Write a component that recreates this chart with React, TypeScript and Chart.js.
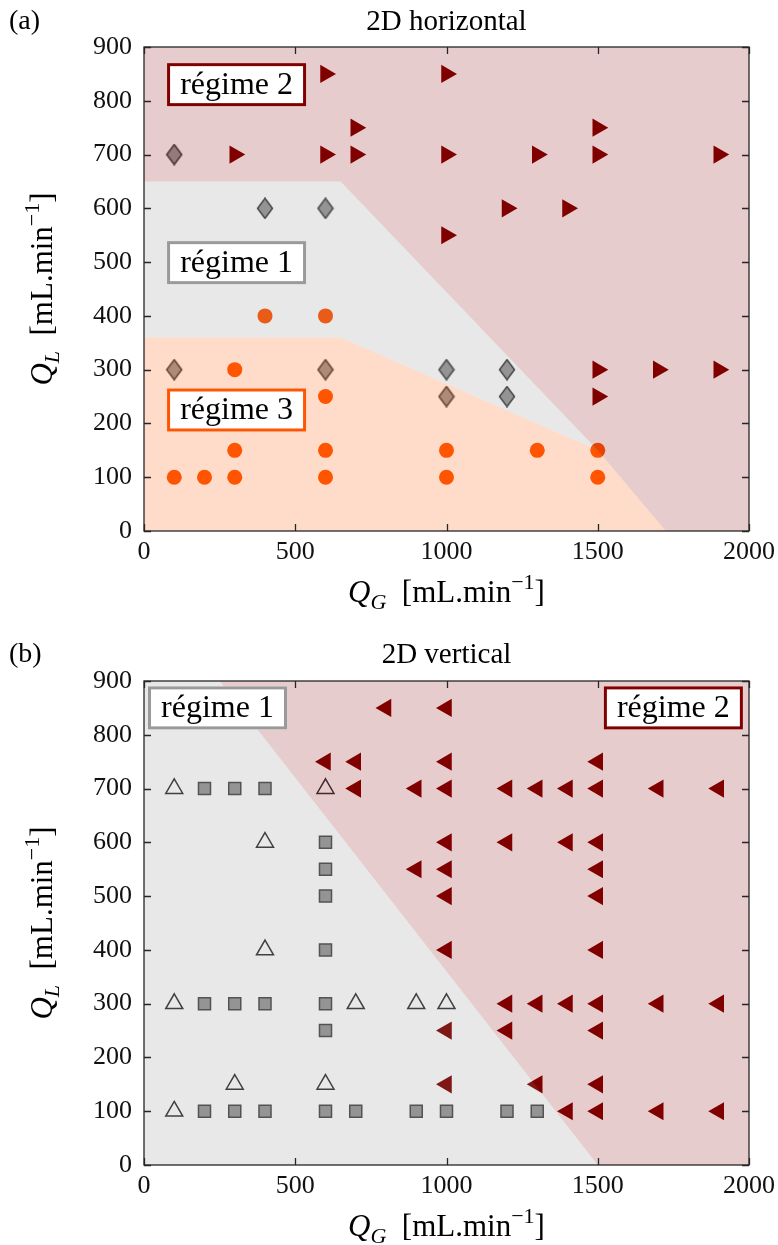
import React, { useEffect, useRef } from "react";
import { Chart, registerables } from "chart.js";

Chart.register(...registerables);

const SERIF = '"Liberation Serif", "Times New Roman", serif';

// ---------------- axes ----------------
const QG_MIN = 0;
const QG_MAX = 2000;
const QG_STEP = 500;
const QL_MIN = 0;
const QL_MAX = 900;
const QL_STEP = 100;

// ---------------- (a) 2D horizontal ----------------
const hTitle = "2D horizontal";
// régime 2 (right-pointing triangles)
const hReg2QG = [600, 1000, 700, 1500, 300, 600, 700, 1000, 1300, 1500, 1900, 1200, 1400, 1000, 1500, 1700, 1900, 1500];
const hReg2QL = [850, 850, 750, 750, 700, 700, 700, 700, 700, 700, 700, 600, 600, 550, 300, 300, 300, 250];
// régime 1 (diamonds)
const hReg1QG = [100, 400, 600, 100, 600, 1000, 1000, 1200, 1200];
const hReg1QL = [700, 600, 600, 300, 300, 300, 250, 300, 250];
// régime 3 (circles)
const hReg3QG = [400, 600, 300, 600, 300, 600, 1000, 1300, 1500, 100, 200, 300, 600, 1000, 1500];
const hReg3QL = [400, 400, 300, 250, 150, 150, 150, 150, 150, 100, 100, 100, 100, 100, 100];
// region boundaries
const hZone2QG = [0, 650, 1500, 1725, 2000];
const hZone2QL = [650, 650, 150, 0, 0];
const hZone1QG = [0, 650, 1500];
const hZone1QL = [650, 650, 150];
const hZone3QG = [0, 650, 1500, 1725];
const hZone3QL = [360, 360, 150, 0];

// ---------------- (b) 2D vertical ----------------
const vTitle = "2D vertical";
// régime 2 (left-pointing triangles)
const vReg2QG = [
  800, 1000,
  600, 700, 1000, 1500,
  700, 900, 1000, 1200, 1300, 1400, 1500, 1700, 1900,
  1000, 1200, 1400, 1500,
  900, 1000, 1500,
  1000, 1500,
  1000, 1500,
  1200, 1300, 1400, 1500, 1700, 1900,
  1000, 1200, 1500,
  1000, 1300, 1500,
  1400, 1500, 1700, 1900,
];
const vReg2QL = [
  850, 850,
  750, 750, 750, 750,
  700, 700, 700, 700, 700, 700, 700, 700, 700,
  600, 600, 600, 600,
  550, 550, 550,
  500, 500,
  400, 400,
  300, 300, 300, 300, 300, 300,
  250, 250, 250,
  150, 150, 150,
  100, 100, 100, 100,
];
// régime 1 (squares)
const vSqQG = [200, 300, 400, 600, 600, 600, 600, 200, 300, 400, 600, 600, 200, 300, 400, 600, 700, 900, 1000, 1200, 1300];
const vSqQL = [700, 700, 700, 600, 550, 500, 400, 300, 300, 300, 300, 250, 100, 100, 100, 100, 100, 100, 100, 100, 100];
// régime 1 (open triangles)
const vTriQG = [100, 600, 400, 400, 100, 700, 900, 1000, 300, 600, 100];
const vTriQL = [700, 700, 600, 400, 300, 300, 300, 300, 150, 150, 100];
// region boundaries
const vZone2QG = [250, 1500, 2000];
const vZone2QL = [900, 0, 0];
const vZone1QG = [0, 250, 1500];
const vZone1QL = [900, 900, 0];

// ---------------- helpers ----------------
const pts = (xs: number[], ys: number[]) => xs.map((x, i) => ({ x, y: ys[i] }));

const PINK = "rgba(128,0,0,0.2)";
const GREY = "rgba(128,128,128,0.18)";
const ORANGE = "rgba(255,85,0,0.21)";
const DARKRED = "#800000";

function zone(xs: number[], ys: number[], color: string, fill: any) {
  return {
    type: "line",
    data: pts(xs, ys),
    backgroundColor: color,
    borderColor: "rgba(0,0,0,0)",
    borderWidth: 0,
    pointRadius: 0,
    fill,
    tension: 0,
  };
}

function diamondCanvas() {
  const c = document.createElement("canvas");
  c.width = 18;
  c.height = 22;
  const g = c.getContext("2d")!;
  g.beginPath();
  g.moveTo(9, 1);
  g.lineTo(16.5, 11);
  g.lineTo(9, 21);
  g.lineTo(1.5, 11);
  g.closePath();
  g.fillStyle = "#999999";
  g.fill();
  g.lineWidth = 1.5;
  g.strokeStyle = "#3d3d3d";
  g.stroke();
  return c;
}

type Part = { t: string; it?: boolean; sm?: boolean; dy?: number };

const axisParts = (sub: string): Part[] => [
  { t: "Q", it: true },
  { t: sub, it: true, sm: true, dy: 0.22 },
  { t: "  [mL.min" },
  { t: "\u22121", sm: true, dy: -0.42 },
  { t: "]" },
];

function drawRich(ctx: CanvasRenderingContext2D, parts: Part[], cx: number, cy: number, size: number, vertical: boolean) {
  ctx.save();
  ctx.translate(cx, cy);
  if (vertical) ctx.rotate(-Math.PI / 2);
  const font = (p: Part) => `${p.it ? "italic " : ""}${p.sm ? Math.round(size * 0.7) : size}px ${SERIF}`;
  const ws = parts.map((p) => {
    ctx.font = font(p);
    return ctx.measureText(p.t).width;
  });
  const total = ws.reduce((a, b) => a + b, 0);
  let x = -total / 2;
  ctx.fillStyle = "#000";
  ctx.textAlign = "left";
  ctx.textBaseline = "alphabetic";
  const base = size * 0.32;
  parts.forEach((p, i) => {
    ctx.font = font(p);
    ctx.fillText(p.t, x, base + (p.dy || 0) * size);
    x += ws[i];
  });
  ctx.restore();
}

interface Box {
  text: string;
  qg: number;
  ql: number;
  color: string;
}

interface PanelSpec {
  height: number;
  tag: string;
  title: string;
  headY: number;
  areaTop: number;
  areaBottom: number;
  xTitleY: number;
  boxes: Box[];
  datasets: () => any[];
}

function decoPlugin(spec: PanelSpec) {
  return {
    id: "deco",
    afterDatasetsDraw(chart: any) {
      const { ctx, chartArea: ca, scales } = chart;
      const xs = scales.x;
      const ys = scales.y;
      ctx.save();
      // label boxes
      spec.boxes.forEach((b) => {
        const cx = xs.getPixelForValue(b.qg);
        const cy = ys.getPixelForValue(b.ql);
        const w = 139;
        const h = 43;
        ctx.fillStyle = "#ffffff";
        ctx.fillRect(cx - w / 2, cy - h / 2, w, h);
        ctx.lineWidth = 3;
        ctx.strokeStyle = b.color;
        ctx.strokeRect(cx - w / 2 + 1.5, cy - h / 2 + 1.5, w - 3, h - 3);
        ctx.fillStyle = "#000";
        ctx.font = `32px ${SERIF}`;
        ctx.textAlign = "center";
        ctx.textBaseline = "middle";
        ctx.fillText(b.text, cx, cy + 1);
      });
      // axes box
      ctx.strokeStyle = "#262626";
      ctx.lineWidth = 1.3;
      ctx.strokeRect(ca.left, ca.top, ca.right - ca.left, ca.bottom - ca.top);
      const tl = 7;
      ctx.beginPath();
      xs.ticks.forEach((t: any) => {
        const px = Math.round(xs.getPixelForValue(t.value)) + 0.5;
        ctx.moveTo(px, ca.bottom);
        ctx.lineTo(px, ca.bottom - tl);
        ctx.moveTo(px, ca.top);
        ctx.lineTo(px, ca.top + tl);
      });
      ys.ticks.forEach((t: any) => {
        const py = Math.round(ys.getPixelForValue(t.value)) + 0.5;
        ctx.moveTo(ca.left, py);
        ctx.lineTo(ca.left + tl, py);
        ctx.moveTo(ca.right, py);
        ctx.lineTo(ca.right - tl, py);
      });
      ctx.stroke();
      // header
      ctx.fillStyle = "#000";
      ctx.textBaseline = "middle";
      ctx.textAlign = "left";
      ctx.font = `28px ${SERIF}`;
      ctx.fillText(spec.tag, 9, spec.headY);
      ctx.textAlign = "center";
      ctx.font = `29px ${SERIF}`;
      ctx.fillText(spec.title, (ca.left + ca.right) / 2, spec.headY);
      // axis titles
      drawRich(ctx, axisParts("G"), (ca.left + ca.right) / 2, spec.xTitleY, 31, false);
      drawRich(ctx, axisParts("L"), 42, (ca.top + ca.bottom) / 2, 31, true);
      ctx.restore();
    },
  };
}

function Panel({ spec }: { spec: PanelSpec }) {
  const ref = useRef<HTMLCanvasElement>(null);
  useEffect(() => {
    const tickFont = { family: SERIF, size: 26 };
    const chart = new Chart(ref.current as HTMLCanvasElement, {
      type: "scatter",
      data: { datasets: spec.datasets() },
      plugins: [decoPlugin(spec)],
      options: {
        animation: false,
        responsive: false,
        devicePixelRatio: 1,
        events: [],
        layout: {
          padding: {
            left: 84,
            right: 29,
            top: spec.areaTop,
            bottom: spec.height - spec.areaBottom - 40,
          },
        },
        plugins: { legend: { display: false }, tooltip: { enabled: false } },
        scales: {
          x: {
            type: "linear",
            min: QG_MIN,
            max: QG_MAX,
            ticks: {
              stepSize: QG_STEP,
              font: tickFont,
              color: "#111",
              padding: 6,
              maxRotation: 0,
              callback: (v: any) => String(v),
            },
            grid: { display: false, drawTicks: false },
            border: { display: false },
            afterFit: (s: any) => {
              s.height = 40;
              s.paddingLeft = 0;
              s.paddingRight = 0;
            },
          },
          y: {
            type: "linear",
            min: QL_MIN,
            max: QL_MAX,
            ticks: {
              stepSize: QL_STEP,
              font: tickFont,
              color: "#111",
              padding: 12,
              callback: (v: any) => String(v),
            },
            grid: { display: false, drawTicks: false },
            border: { display: false },
            afterFit: (s: any) => {
              s.width = 60;
              s.paddingTop = 0;
              s.paddingBottom = 0;
            },
          },
        },
      } as any,
    } as any);
    return () => chart.destroy();
  }, []);
  return (
    <canvas
      ref={ref}
      width={778}
      height={spec.height}
      style={{ display: "block", width: 778, height: spec.height }}
    />
  );
}

const panelA: PanelSpec = {
  height: 622,
  tag: "(a)",
  title: hTitle,
  headY: 22,
  areaTop: 47,
  areaBottom: 531,
  xTitleY: 592,
  boxes: [
    { text: "régime 2", qg: 306, ql: 830, color: DARKRED },
    { text: "régime 1", qg: 306, ql: 499, color: "#9a9a9a" },
    { text: "régime 3", qg: 306, ql: 225, color: "#ff5500" },
  ],
  datasets: () => [
    zone(hZone2QG, hZone2QL, PINK, "end"),
    zone(hZone1QG, hZone1QL, GREY, "+1"),
    zone(hZone3QG, hZone3QL, ORANGE, "origin"),
    {
      data: pts(hReg2QG, hReg2QL),
      pointStyle: "triangle",
      pointRotation: 90,
      pointRadius: 10.5,
      pointBackgroundColor: DARKRED,
      pointBorderColor: DARKRED,
      pointBorderWidth: 0,
    },
    {
      data: pts(hReg1QG, hReg1QL),
      pointStyle: diamondCanvas(),
      pointRadius: 9,
    },
    {
      data: pts(hReg3QG, hReg3QL),
      pointStyle: "circle",
      pointRadius: 7.5,
      pointBackgroundColor: "#ff5500",
      pointBorderColor: "#ff5500",
      pointBorderWidth: 0,
    },
  ],
};

const panelB: PanelSpec = {
  height: 623,
  tag: "(b)",
  title: vTitle,
  headY: 33,
  areaTop: 59,
  areaBottom: 543,
  xTitleY: 604,
  boxes: [
    { text: "régime 1", qg: 243, ql: 850, color: "#9a9a9a" },
    { text: "régime 2", qg: 1750, ql: 850, color: DARKRED },
  ],
  datasets: () => [
    zone(vZone2QG, vZone2QL, PINK, "end"),
    zone(vZone1QG, vZone1QL, GREY, "origin"),
    {
      data: pts(vReg2QG, vReg2QL),
      pointStyle: "triangle",
      pointRotation: -90,
      pointRadius: 10.5,
      pointBackgroundColor: DARKRED,
      pointBorderColor: DARKRED,
      pointBorderWidth: 0,
    },
    {
      data: pts(vSqQG, vSqQL),
      pointStyle: "rect",
      pointRadius: 8.5,
      pointBackgroundColor: "#999999",
      pointBorderColor: "#4a4a4a",
      pointBorderWidth: 1.5,
    },
    {
      data: pts(vTriQG, vTriQL),
      pointStyle: "triangle",
      pointRadius: 9.8,
      pointBackgroundColor: "rgba(0,0,0,0)",
      pointBorderColor: "#333333",
      pointBorderWidth: 1.5,
    },
  ],
};

export default function App() {
  return (
    <div style={{ position: "absolute", left: 0, top: 0, width: 778, height: 1245, background: "#fff" }}>
      <Panel spec={panelA} />
      <Panel spec={panelB} />
    </div>
  );
}
